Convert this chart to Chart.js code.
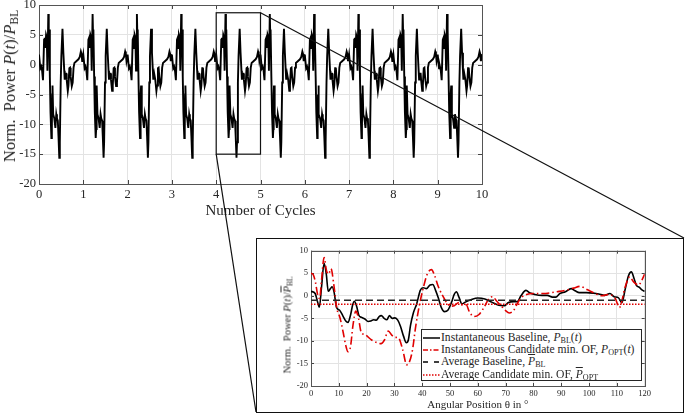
<!DOCTYPE html>
<html>
<head>
<meta charset="utf-8">
<script src="https://cdn.jsdelivr.net/npm/chart.js@4.4.1/dist/chart.umd.min.js"></script>
<style>
  body { margin: 0; width: 685px; height: 414px; position: relative; overflow: hidden; background: #fff;
         font-family: 'Liberation Serif', serif; color: #262626; }
  canvas { position: absolute; }
  #main { left: 0; top: 0; }
  #insetBox { position: absolute; left: 256px; top: 238px; width: 428px; height: 175px; box-sizing: border-box;
              border: 1px solid #111; background: #fff; }
  #inset { left: 256px; top: 238px; }
  .ytitle { position: absolute; white-space: nowrap; transform: translate(-50%, -50%) rotate(-90deg); }
  .ov { text-decoration: overline; }
  sub { font-size: 0.7em; vertical-align: -0.3em; line-height: 0; }
  #legend { position: absolute; left: 421px; top: 329px; width: 221px; height: 52px; box-sizing: border-box;
            border: 1px solid #262626; background: #fff; font-size: 11.6px; }
  .row { position: absolute; left: 1px; height: 12px; line-height: 12px; white-space: nowrap; }
  .row svg { display: inline-block; vertical-align: middle; margin-right: 1px; }
</style>
</head>
<body>
<canvas id="main" width="685" height="414"></canvas>
<div id="insetBox"></div>
<canvas id="inset" width="428" height="176"></canvas>

<div class="ytitle" style="left:10px; top:86px; font-size:16.5px;">Norm.&nbsp; Power <i>P</i>(<i>t</i>)/<i class="ov">P</i><sub>BL</sub></div>
<div class="ytitle" style="left:287px; top:325px; font-size:10.5px;">Norm.&nbsp; Power <i>P</i>(<i>t</i>)/<i class="ov">P</i><sub>BL</sub></div>

<div id="legend">
  <div class="row" style="top:2px"><svg width="17" height="4"><line x1="0" y1="2" x2="17" y2="2" stroke="#000" stroke-width="1.5"/></svg>Instantaneous Baseline, <i>P</i><sub>BL</sub>(<i>t</i>)</div>
  <div class="row" style="top:14px"><svg width="17" height="4"><line x1="0" y1="2" x2="17" y2="2" stroke="#e00000" stroke-width="1.5" stroke-dasharray="5 2 1.5 2"/></svg>Instantaneous Candidate min. OF, <i>P</i><sub>OPT</sub>(<i>t</i>)</div>
  <div class="row" style="top:26px"><svg width="17" height="4"><line x1="0" y1="2" x2="17" y2="2" stroke="#000" stroke-width="1.5" stroke-dasharray="5 6"/></svg>Average Baseline, <i class="ov">P</i><sub>BL</sub></div>
  <div class="row" style="top:39px"><svg width="17" height="4"><line x1="0" y1="2" x2="17" y2="2" stroke="#e00000" stroke-width="1.5" stroke-dasharray="1.5 1.5"/></svg>Average Candidate min. OF, <i class="ov">P</i><sub>OPT</sub></div>
</div>

<script>
// ---- data ----
// one cycle of the normalised power (main plot repeats the same cycle 10 times)
const cycleFrac = [0, 0.03, 0.05, 0.07, 0.09, 0.115, 0.13, 0.145, 0.16, 0.175, 0.19, 0.21, 0.22, 0.228,
  0.245, 0.26, 0.28, 0.29, 0.298, 0.305, 0.32, 0.345, 0.37, 0.39, 0.405, 0.425, 0.44, 0.458, 0.47, 0.49,
  0.505, 0.53, 0.55, 0.57, 0.58, 0.6, 0.615, 0.625, 0.65, 0.665, 0.685, 0.7, 0.715, 0.74, 0.76, 0.78,
  0.8, 0.83, 0.86, 0.89, 0.92, 0.945, 0.96, 0.975, 0.99];
const cyclePower = [1.7, -0.6, -0.3, -1.0, -2.6, 4.2, 4.5, 2.8, 5.0, 4.6, -1.0, 8.5, 5.0, 5.9,
  -2.0, -8.0, -12.3, -10.8, -5.0, -3.5, -8.3, -9.0, -10.6, -8.3, -9.0, -9.4, -12.0, -15.6, -13.0, -3.0,
  1.5, 6.0, 2.0, -1.0, -2.5, -1.5, -1.5, -2.5, -4.4, -3.5, -0.6, -0.5, -2.0, -3.6, -3.0, -0.5,
  0.3, 0.5, 0.7, 0.9, 1.3, 2.2, 1.8, 0.6, 1.2];
const nCycles = 10;
const cycleTicks = [0, 1, 2, 3, 4, 5, 6, 7, 8, 9, 10];
const zoomWindow = { x0: 4, x1: 5, y0: -15, y1: 8.7 };

// inset: angular position (deg) within one cycle
const blTheta = [0, 1.5, 2.3, 3, 3.8, 4.7, 5.5, 6.2, 7.0, 7.6, 8.3, 9.2, 10.3, 11.5, 12.5, 13.3, 14.2, 15,
  15.6, 16.4, 17.2, 18.2, 19.5, 20.5, 21.5, 22.5, 23.5, 24.5, 25.3, 26.3, 27.3, 28.2, 29.2, 30.2, 31.2,
  32.2, 33.3, 34.3, 35, 35.8, 36.8, 38, 39.3, 40.3, 41.5, 42.8, 43.8, 44.8, 45.8, 46.8, 48, 49.2, 50.5,
  51.5, 52.3, 53.2, 54.3, 55.5, 57.5, 60, 62.5, 65, 67.5, 69.5, 71, 73, 74.2, 75.5, 77.3, 78.8, 80.5,
  83, 85, 86.8, 88, 89.5, 91.5, 93.5, 95, 96.5, 99, 101.5, 103.5, 105.5, 107.5, 109, 110.5, 111.8, 113,
  114.2, 115.2, 116.2, 117, 118, 119, 120];
const blPower = [1.0, 0.5, -1.2, -2.5, 2.0, 7.2, 4.8, 1.0, 1.6, 2.0, 0.8, -2.6, -3.2, -4.5, -5.6, -5.9, -4.3, -2.0,
  -1.2, -2.3, -4.3, -4.8, -5.2, -5.7, -5.6, -5.3, -5.4, -4.6, -4.4, -5.0, -5.3, -4.4, -5.0, -4.9, -5.4,
  -6.8, -9.0, -10.4, -9.8, -6.5, -3.8, -1.8, 1.2, 1.8, 1.6, 2.4, 2.5, 1.2, -0.5, -2.5, -3.5, -3.2, -1.5,
  0.3, 0.9, -0.3, -1.8, -1.4, -0.9, -0.5, -0.7, -1.4, -2.1, -2.2, -1.5, -1.3, -1.3, 0.0, 1.2, 0.6, 0.3,
  0.1, 0.1, -0.3, -0.3, 0.5, 0.9, 1.6, 1.1, 0.7, 0.7, 0.6, 0.4, 0.1, 0.5, -0.2, -0.4, -1.5, 1.5,
  4.5, 5.3, 3.8, 2.3, 1.9, 1.3, 1.0];
const optTheta = [0, 0.8, 1.6, 2.4, 3.1, 3.8, 4.7, 5.6, 6.3, 7.2, 8.2, 9.3, 10.4, 11.6, 12.5, 13.3, 14.2,
  15.1, 16.1, 17.1, 18, 19.4, 21.8, 24.2, 25.2, 26.4, 27.8, 29, 30.2, 31.4, 33, 34.4, 35.3, 36.5, 37.6,
  39, 40.4, 41.8, 43.3, 44.4, 45.8, 47.2, 48.8, 50.2, 51.5, 53.2, 54.6, 55.8, 57, 58.6, 60.3, 62.2, 64,
  65.3, 66.8, 68.5, 70, 71.3, 72.8, 74.3, 75.8, 77.5, 80, 83.5, 86.5, 88.5, 92, 94.4, 96.8, 99.2, 102.2,
  104.6, 107, 109.4, 110.9, 113, 114.6, 116, 117.8, 119, 120];
const optPower = [5.0, 4.7, 3.0, 0.2, -0.6, 3.5, 8.5, 5.5, 4.8, 6.0, 2.5, -2.8, -4.8, -8.2, -11.0, -12.4, -11.3,
  -6.5, -3.4, -5.0, -8.0, -8.6, -9.8, -10.5, -10.6, -9.8, -7.8, -8.7, -9.2, -9.3, -12.0, -15.3, -14.8, -12.0, -7.0,
  -2.0, 1.8, 4.8, 5.8, 4.6, 2.0, 0.2, -1.5, -2.3, -2.2, -1.5, -2.1, -2.0, -3.6, -4.6, -4.2, -2.6, -0.6,
  -0.2, -1.2, -2.3, -3.3, -3.8, -3.3, -1.6, -0.3, 0.3, 0.5, 0.5, 0.7, 0.9, 1.3, 1.7, 2.1, 1.4, 0.5,
  0.0, 0.3, -0.6, -2.6, 2.0, 4.2, 3.1, 2.4, 3.5, 4.8];
const avgBL = -1.0;
const avgOPT = -1.9;
const thetaRange = [0, 120];

// ---- build series ----
const mainPoints = [];
for (let k = 0; k < nCycles; k++) {
  cycleFrac.forEach((f, i) => mainPoints.push({ x: k + f, y: cyclePower[i] }));
}
mainPoints.push({ x: nCycles, y: cyclePower[0] });

const blPoints = blTheta.map((t, i) => ({ x: t, y: blPower[i] }));
const optPoints = optTheta.map((t, i) => ({ x: t, y: optPower[i] }));

const serif = "'Liberation Serif', serif";
const textCol = '#262626';
const gridCol = '#e3e3e3';

// MATLAB style box with inward ticks
const frame = {
  id: 'frame',
  beforeDatasetsDraw(chart, args, opts) {
    const { ctx, chartArea: a, scales } = chart;
    const L = opts.len || 4;
    ctx.save();
    ctx.strokeStyle = '#444';
    ctx.lineWidth = 1;
    ctx.beginPath();
    scales.x.ticks.forEach(t => {
      const px = Math.round(scales.x.getPixelForValue(t.value)) + 0.5;
      ctx.moveTo(px, a.bottom); ctx.lineTo(px, a.bottom - L);
      ctx.moveTo(px, a.top); ctx.lineTo(px, a.top + L);
    });
    scales.y.ticks.forEach(t => {
      const py = Math.round(scales.y.getPixelForValue(t.value)) + 0.5;
      ctx.moveTo(a.left, py); ctx.lineTo(a.left + L, py);
      ctx.moveTo(a.right, py); ctx.lineTo(a.right - L, py);
    });
    ctx.stroke();
    ctx.strokeStyle = '#555';
    ctx.strokeRect(Math.round(a.left) + 0.5, Math.round(a.top) + 0.5,
      Math.round(a.right - a.left), Math.round(a.bottom - a.top));
    ctx.restore();
  }
};

// zoom window rectangle and lines to the inset box
const zoomMarks = {
  id: 'zoomMarks',
  afterDatasetsDraw(chart) {
    const { ctx, scales: { x, y } } = chart;
    const x0 = x.getPixelForValue(zoomWindow.x0), x1 = x.getPixelForValue(zoomWindow.x1);
    const y0 = y.getPixelForValue(zoomWindow.y0), y1 = y.getPixelForValue(zoomWindow.y1);
    const box = document.getElementById('insetBox');
    const bl = box.offsetLeft, bt = box.offsetTop;
    const br = bl + box.offsetWidth, bb = bt + box.offsetHeight;
    ctx.save();
    ctx.strokeStyle = '#111';
    ctx.lineWidth = 1.2;
    ctx.strokeRect(x0, y1, x1 - x0, y0 - y1);
    ctx.beginPath();
    ctx.moveTo(x1, y1); ctx.lineTo(br, bt);
    ctx.moveTo(x0, y0); ctx.lineTo(bl, bb - 1);
    ctx.stroke();
    ctx.restore();
  }
};

function noPad(s) { s.paddingTop = 0; s.paddingBottom = 0; s.paddingLeft = 0; s.paddingRight = 0; }

new Chart(document.getElementById('main'), {
  type: 'line',
  data: {
    datasets: [{
      data: mainPoints,
      borderColor: '#000',
      borderWidth: 1.9,
      pointRadius: 0,
      tension: 0,
      fill: false
    }]
  },
  options: {
    responsive: false,
    animation: false,
    events: [],
    layout: { padding: { left: 0, top: 5, right: 203, bottom: 190 } },
    plugins: { legend: { display: false }, tooltip: { enabled: false }, frame: { len: 4 } },
    scales: {
      x: {
        type: 'linear', min: 0, max: 10,
        afterBuildTicks: s => { s.ticks = cycleTicks.map(v => ({ value: v })); },
        ticks: { padding: 3, color: textCol, font: { family: serif, size: 12.5 } },
        grid: { color: gridCol, drawTicks: false },
        border: { display: false },
        title: { display: true, text: 'Number of Cycles', color: textCol,
                 font: { family: serif, size: 15 }, padding: { top: 0, bottom: 4 } },
        afterFit: s => { s.height = 40; noPad(s); }
      },
      y: {
        min: -20, max: 10,
        ticks: { stepSize: 5, padding: 3, color: textCol, font: { family: serif, size: 12.5 } },
        grid: { color: gridCol, drawTicks: false },
        border: { display: false },
        afterFit: s => { s.width = 39; noPad(s); }
      }
    }
  },
  plugins: [frame, zoomMarks]
});

new Chart(document.getElementById('inset'), {
  type: 'line',
  data: {
    datasets: [
      { data: blPoints, borderColor: '#000', borderWidth: 1.6, cubicInterpolationMode: 'monotone', order: 3 },
      { data: optPoints, borderColor: '#e00000', borderWidth: 1.6, borderDash: [8, 3, 1.5, 3],
        cubicInterpolationMode: 'monotone', order: 2 },
      { data: thetaRange.map(t => ({ x: t, y: avgBL })), borderColor: '#262626', borderWidth: 1.5,
        borderDash: [7, 4], order: 1 },
      { data: thetaRange.map(t => ({ x: t, y: avgOPT })), borderColor: '#e00000', borderWidth: 1.5,
        borderDash: [1.5, 1.5], order: 0 }
    ]
  },
  options: {
    responsive: false,
    animation: false,
    events: [],
    elements: { point: { radius: 0 } },
    layout: { padding: { left: 35, top: 12.7, right: 39.3, bottom: 0 } },
    plugins: { legend: { display: false }, tooltip: { enabled: false }, frame: { len: 3 } },
    scales: {
      x: {
        type: 'linear', min: 0, max: 120,
        ticks: { stepSize: 10, padding: 3, color: textCol, font: { family: serif, size: 8.5 } },
        grid: { color: gridCol, drawTicks: false },
        border: { display: false },
        title: { display: true, text: 'Angular Position θ in °', color: textCol,
                 font: { family: serif, size: 11 }, padding: { top: 0, bottom: 2 } },
        afterFit: s => { s.height = 28; noPad(s); }
      },
      y: {
        min: -20, max: 10,
        ticks: { stepSize: 5, padding: 3, color: textCol, font: { family: serif, size: 8.5 } },
        grid: { color: gridCol, drawTicks: false },
        border: { display: false },
        afterFit: s => { s.width = 20; noPad(s); }
      }
    }
  },
  plugins: [frame]
});
</script>
</body>
</html>
